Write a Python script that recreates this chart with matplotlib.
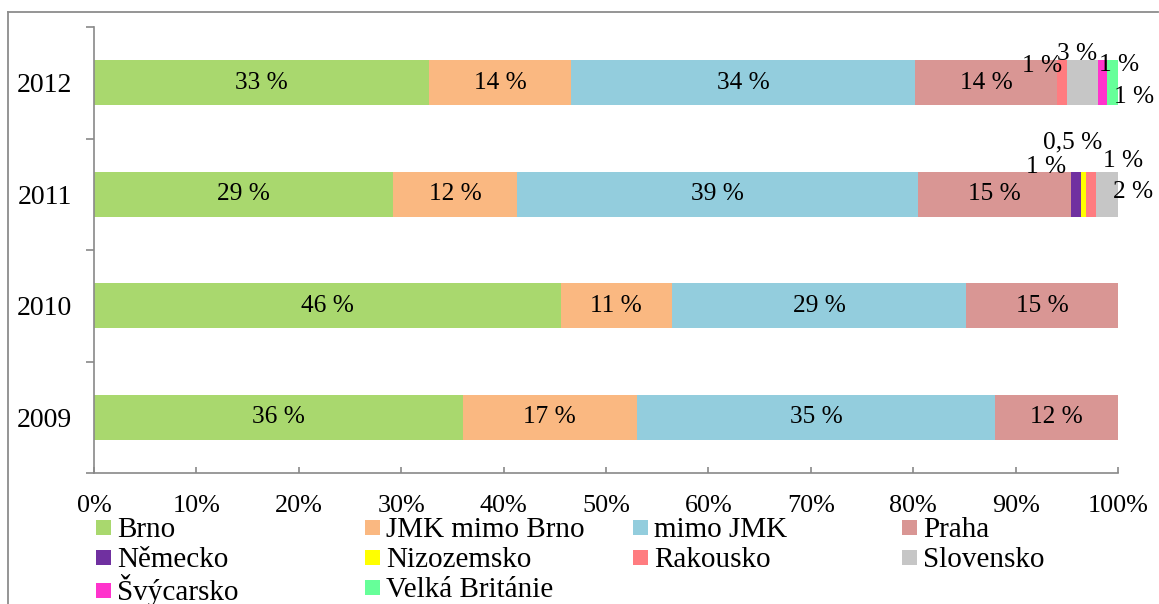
import numpy as np
import matplotlib.pyplot as plt
from matplotlib.lines import Line2D

plt.rcParams['font.family'] = ['Liberation Serif', 'DejaVu Serif']

# Struktura studentů podle bydliště (podíly v %)
years = ['2009', '2010', '2011', '2012']
series = ['Brno', 'JMK mimo Brno', 'mimo JMK', 'Praha',
          'Německo', 'Nizozemsko', 'Rakousko', 'Slovensko',
          'Švýcarsko', 'Velká Británie']
colors = ['#A9D86E', '#FAB881', '#93CDDD', '#D99694',
          '#7030A0', '#FFFF00', '#FF7C80', '#C6C6C6',
          '#FF33CC', '#66FF99']

brno = [36.0, 45.6, 29.2, 32.7]
jmk_mimo_brno = [17.0, 10.8, 12.1, 13.9]
mimo_jmk = [35.0, 28.8, 39.2, 33.6]
praha = [12.0, 14.8, 14.9, 13.8]
nemecko = [0, 0, 1.0, 0]
nizozemsko = [0, 0, 0.5, 0]
rakousko = [0, 0, 1.0, 1.0]
slovensko = [0, 0, 2.1, 3.0]
svycarsko = [0, 0, 0, 0.9]
velka_britanie = [0, 0, 0, 1.1]

values = [brno, jmk_mimo_brno, mimo_jmk, praha, nemecko, nizozemsko,
          rakousko, slovensko, svycarsko, velka_britanie]

# posun popisků malých segmentů (v pixelech: dx, dy nahoru kladně)
small_offsets = {
    (2, 4): (-30, 27),   # Německo 2011
    (2, 5): (-11, 52),   # Nizozemsko 2011
    (2, 6): (32, 33),    # Rakousko 2011
    (2, 7): (26, 2),     # Slovensko 2011
    (3, 6): (-20, 17),   # Rakousko 2012
    (3, 7): (-5, 29),    # Slovensko 2012
    (3, 8): (17, 18),    # Švýcarsko 2012
    (3, 9): (22, -14),   # Velká Británie 2012
}


def fmt(v):
    if v < 0.75:
        return f'{v:.1f} %'.replace('.', ',')
    return f'{round(v):.0f} %'


W, H = 1159, 604
fig = plt.figure(figsize=(W / 100, H / 100), dpi=100)
ax = fig.add_axes([94 / W, 1 - 473 / H, (1118 - 94) / W, (473 - 27) / H])

y = np.arange(len(years))
left = np.zeros(len(years))
px = 0.72  # body na pixel při dpi 100
for s, (name, vals, col) in enumerate(zip(series, values, colors)):
    vals = np.array(vals)
    ax.barh(y, vals / 100, left=left / 100, height=0.4, color=col,
            label=name)
    for i, v in enumerate(vals):
        if v <= 0:
            continue
        cx = (left[i] + v / 2) / 100
        if (i, s) in small_offsets:
            dx, dy = small_offsets[(i, s)]
            ax.annotate(fmt(v), (cx, y[i]), xytext=(dx * px, dy * px),
                        textcoords='offset points', ha='center',
                        va='center', fontsize=18.3, annotation_clip=False)
        else:
            ax.text(cx, y[i], fmt(v), ha='center', va='center',
                    fontsize=18.3)
    left += vals

ax.set_xlim(0, 1)
ax.set_ylim(-0.5, 3.5)
ax.set_xticks(np.arange(0, 1.01, 0.1))
ax.set_xticklabels([f'{k}%' for k in range(0, 101, 10)])
ax.set_yticks(y)
ax.set_yticklabels(years)
ax.set_yticks(np.arange(-0.5, 3.6, 1), minor=True)

grey = '#898989'
for side in ['top', 'right']:
    ax.spines[side].set_visible(False)
for side in ['left', 'bottom']:
    ax.spines[side].set_color(grey)
    ax.spines[side].set_linewidth(1.2)
ax.tick_params(axis='x', direction='in', length=4.5, width=1.2,
               color=grey, labelsize=18.8, pad=16)
ax.tick_params(axis='y', which='major', length=0, labelsize=20, pad=16)
ax.tick_params(axis='y', which='minor', direction='out', length=6,
               width=1.2, color=grey)

# legenda: každá položka zvlášť, po řádcích ve čtyřech sloupcích
col_x = [96, 365, 633, 902]
row_y = [530, 560, 590]
for k, (name, col) in enumerate(zip(series, colors)):
    r, c = divmod(k, 4)
    h = Line2D([], [], marker='s', linestyle='none', markersize=10.8,
               markerfacecolor=col, markeredgewidth=0)
    fig.legend([h], [name], loc='center left',
               bbox_to_anchor=(col_x[c] / W, 1 - row_y[r] / H),
               frameon=False, fontsize=21, handlelength=0.51,
               handletextpad=0.2, borderpad=0, borderaxespad=0)

# rámeček grafu
fig.add_artist(Line2D([8 / W, 8 / W], [0, 1 - 12 / H], color='#8C8C8C',
                      lw=1.3, transform=fig.transFigure))
fig.add_artist(Line2D([8 / W, 1158 / W], [1 - 12 / H, 1 - 12 / H],
                      color='#8C8C8C', lw=1.3, transform=fig.transFigure))

fig.savefig('out.png', dpi=100)
